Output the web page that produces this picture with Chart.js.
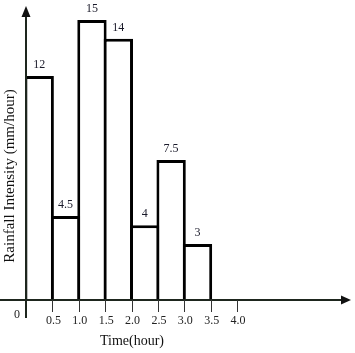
<!DOCTYPE html>
<html><head><meta charset="utf-8">
<script src="https://cdn.jsdelivr.net/npm/chart.js@4/dist/chart.umd.min.js"></script>
<style>html,body{margin:0;padding:0;background:#fff;} canvas{display:block;}</style>
</head><body>
<canvas id="c" width="355" height="353"></canvas>
<script>
const binStarts = [0, 0.5, 1.0, 1.5, 2.0, 2.5, 3.0];
const binWidth = 0.5;
const intensity = [12, 4.5, 15, 14, 4, 7.5, 3];
const valueLabels = ['12', '4.5', '15', '14', '4', '7.5', '3'];
const xTickValues = [0.5, 1.0, 1.5, 2.0, 2.5, 3.0, 3.5, 4.0];
const xTickLabels = ['0.5', '1.0', '1.5', '2.0', '2.5', '3.0', '3.5', '4.0'];
const originLabel = '0';
const xTitle = 'Time(hour)';
const yTitle = 'Rainfall Intensity (mm/hour)';

const SERIF = '"Liberation Serif", "DejaVu Serif", serif';

const drawPlugin = {
  id: 'hyetograph',
  afterDatasetsDraw(chart) {
    const ctx = chart.ctx;
    const xs = chart.scales.x, ys = chart.scales.y;
    const x0 = xs.getPixelForValue(0);
    const y0 = ys.getPixelForValue(0);
    const top = chart.chartArea.top;
    const right = chart.chartArea.right;
    ctx.save();
    // value labels
    const meta = chart.getDatasetMeta(0);
    ctx.fillStyle = '#1a1a2a';
    ctx.font = '12px ' + SERIF;
    ctx.textAlign = 'center';
    ctx.textBaseline = 'bottom';
    meta.data.forEach((bar, i) => {
      ctx.fillText(valueLabels[i], bar.x, bar.y - 5);
    });
    // axes
    ctx.strokeStyle = '#1e261e';
    ctx.fillStyle = '#111';
    ctx.lineWidth = 2;
    ctx.beginPath();
    ctx.moveTo(x0, y0 + 18);
    ctx.lineTo(x0, top + 9);
    ctx.moveTo(0, y0);
    ctx.lineTo(right - 8, y0);
    ctx.stroke();
    // arrowheads
    ctx.beginPath();
    ctx.moveTo(x0, top);
    ctx.lineTo(x0 - 4.5, top + 11);
    ctx.lineTo(x0 + 4.5, top + 11);
    ctx.closePath();
    ctx.fill();
    ctx.beginPath();
    ctx.moveTo(right + 1, y0);
    ctx.lineTo(right - 9, y0 - 4.5);
    ctx.lineTo(right - 9, y0 + 4.5);
    ctx.closePath();
    ctx.fill();
    // ticks
    ctx.lineWidth = 1;
    ctx.strokeStyle = '#333';
    ctx.beginPath();
    xTickValues.forEach(v => {
      const px = Math.round(xs.getPixelForValue(v)) + 0.5;
      ctx.moveTo(px, y0);
      ctx.lineTo(px, y0 + 12);
    });
    ctx.stroke();
    // tick labels
    ctx.fillStyle = '#222';
    ctx.font = '12px ' + SERIF;
    ctx.textAlign = 'center';
    ctx.textBaseline = 'middle';
    xTickValues.forEach((v, i) => {
      ctx.fillText(xTickLabels[i], xs.getPixelForValue(v) + 1, y0 + 21);
    });
    ctx.fillText(originLabel, x0 - 9, y0 + 15);
    // titles
    ctx.fillStyle = '#111';
    ctx.font = '14px ' + SERIF;
    ctx.fillText(xTitle, 132, 341);
    ctx.font = '15px ' + SERIF;
    ctx.translate(10, 176);
    ctx.rotate(-Math.PI / 2);
    ctx.fillText(yTitle, 0, 0);
    ctx.restore();
  }
};

new Chart(document.getElementById('c'), {
  type: 'bar',
  data: {
    datasets: [{
      data: binStarts.map((s, i) => ({ x: s + binWidth / 2, y: intensity[i] })),
      backgroundColor: '#ffffff',
      borderColor: '#000000',
      borderWidth: 3,
      borderSkipped: 'start',
      barPercentage: 1.113,
      categoryPercentage: 1
    }]
  },
  options: {
    responsive: false,
    animation: false,
    events: [],
    layout: { padding: { left: 26, right: 5, top: 6, bottom: 53 } },
    plugins: { legend: { display: false }, tooltip: { enabled: false } },
    scales: {
      x: {
        type: 'linear', display: false, offset: false,
        min: 0, max: 6.14,
        ticks: { stepSize: 0.5, includeBounds: false },
        grid: { offset: false }
      },
      y: {
        type: 'linear', display: false,
        min: 0, max: 15.75
      }
    }
  },
  plugins: [drawPlugin]
});
</script>
</body></html>
